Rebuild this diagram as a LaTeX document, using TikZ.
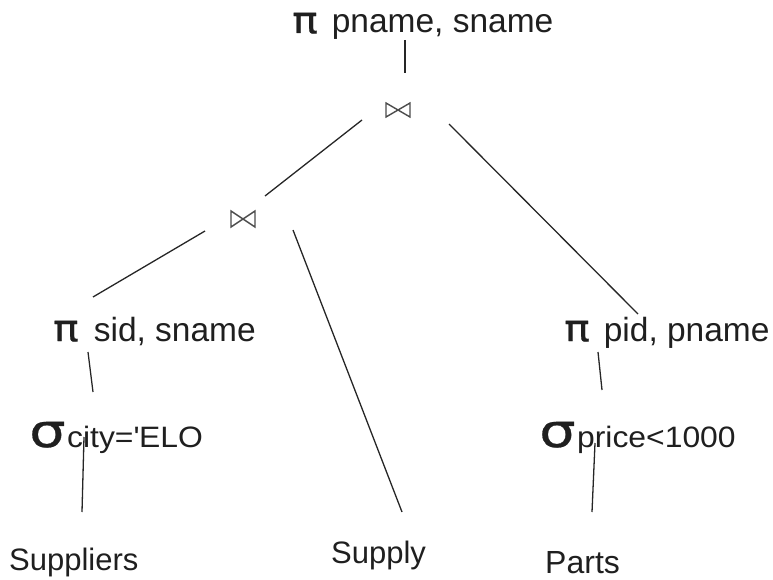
\documentclass[tikz,border=0pt]{standalone}
\usepackage{fontspec}
\usetikzlibrary{calc}
\setmainfont{Liberation Sans}
\newfontfamily\pifont[FakeStretch=1.15,FakeBold=0.6]{DejaVu Sans}
\newfontfamily\sgfont[FakeStretch=1.25,FakeBold=0.6]{DejaVu Sans}
\newfontfamily\subfont[FakeStretch=1.08]{Liberation Sans}
\newcommand\PIsym{{\pifont\fontsize{37}{37}\selectfont π}}
\newcommand\SGsym{{\sgfont\fontsize{46}{46}\selectfont σ}}
\newcommand\subtxt[1]{{\subfont\fontsize{29.5}{30}\selectfont #1}}
\begin{document}
\begin{tikzpicture}[x=1pt,y=-1pt,
  lbl/.style={anchor=base west, inner sep=0pt, font=\fontsize{33.5}{40}\selectfont, text=black!88},
  edge/.style={draw=black!85, line width=1.3pt},
  bowtie/.style={draw=black!70, line width=1.4pt, line join=miter}]
\useasboundingbox (0,0) rectangle (773,580);
% labels
\node[lbl] (top) at (292,33) {\PIsym\hspace{14pt}pname, sname};
\node[lbl] (ps) at (53,341) {\PIsym\hspace{15pt}sid, sname};
\node[lbl] (pp) at (564,341) {\PIsym\hspace{14pt}pid, pname};
\node[lbl] (sc) at (29,447) {\SGsym\hspace{1.5pt}\subtxt{city=\textquotesingle ELO}};
\node[lbl] (sp) at (539,447) {\SGsym\hspace{1.5pt}\subtxt{price<1000}};
\node[lbl, font=\fontsize{31}{36}\selectfont] (sup) at (9,570) {Suppliers};
\node[lbl, font=\fontsize{31}{36}\selectfont] (spl) at (331,563) {Supply};
\node[lbl, font=\fontsize{32}{38}\selectfont] (prt) at (545,573) {Parts};
% joins
\coordinate (j1) at (398,110);
\coordinate (j2) at (243,219);
\draw[bowtie] ($(j1)+(-12,-7)$) -- ($(j1)+(-12,7)$) -- ($(j1)+(12,-7)$) -- ($(j1)+(12,7)$) -- cycle;
\draw[bowtie] ($(j2)+(-12,-8)$) -- ($(j2)+(-12,8)$) -- ($(j2)+(12,-8)$) -- ($(j2)+(12,8)$) -- cycle;
% connector end points
\coordinate (a1) at (405,40);   \coordinate (a2) at (405,73);
\coordinate (b1) at (362,120);  \coordinate (b2) at (265,196);
\coordinate (c1) at (449,124);  \coordinate (c2) at (638,314);
\coordinate (d1) at (205,231);  \coordinate (d2) at (93,297);
\coordinate (e1) at (293,230);  \coordinate (e2) at (402,512);
\coordinate (f1) at (88,352);   \coordinate (f2) at (93,392);
\coordinate (g1) at (84,437);   \coordinate (g2) at (82,512);
\coordinate (h1) at (598,352);  \coordinate (h2) at (602,390);
\coordinate (i1) at (595,443);  \coordinate (i2) at (592,512);
\draw[edge] (a1) -- (a2);
\draw[edge] (b1) -- (b2);
\draw[edge] (c1) -- (c2);
\draw[edge] (d1) -- (d2);
\draw[edge] (e1) -- (e2);
\draw[edge] (f1) -- (f2);
\draw[edge] (g1) -- (g2);
\draw[edge] (h1) -- (h2);
\draw[edge] (i1) -- (i2);
\end{tikzpicture}
\end{document}
